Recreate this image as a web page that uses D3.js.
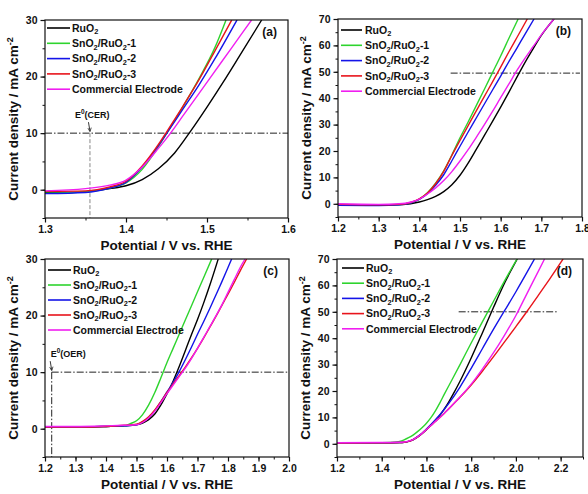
<!DOCTYPE html>
<html><head><meta charset="utf-8">
<script src="https://cdn.jsdelivr.net/npm/d3@7"></script>
<style>
body{margin:0;background:#fff;}
svg text{font-family:"Liberation Sans",Arial,sans-serif;font-weight:bold;fill:#111;}
</style></head>
<body><svg id="c" width="588" height="494"></svg>
<script>
// ---- data ----
const seriesNames = ["RuO2","SnO2/RuO2-1","SnO2/RuO2-2","SnO2/RuO2-3","Commercial Electrode"];
const seriesColors = ["#000000","#2ed42e","#1414e8","#e8141b","#f01ef0"];

// panel (a)  CER, potential (V) vs current density (mA cm-2)
const a_RuO2 = [[1.30,-0.5],[1.33,-0.5],[1.36,-0.2],[1.38,0.2],[1.40,0.7],[1.42,1.8],[1.44,3.7],[1.46,6.5],[1.48,10.4],[1.50,14.6],[1.52,19.0],[1.54,23.6],[1.5675,30]];
const a_Sn1  = [[1.30,-0.6],[1.35,-0.4],[1.38,0.3],[1.40,1.2],[1.42,3.6],[1.44,7.6],[1.45,9.9],[1.47,14.6],[1.49,19.6],[1.51,25.2],[1.5235,30]];
const a_Sn2  = [[1.30,-0.7],[1.35,-0.5],[1.38,0.3],[1.40,1.3],[1.42,4.0],[1.44,7.8],[1.45,9.9],[1.47,14.2],[1.49,18.5],[1.51,23.2],[1.537,30]];
const a_Sn3  = [[1.30,-0.3],[1.35,-0.2],[1.38,0.5],[1.40,1.5],[1.42,4.2],[1.44,8.0],[1.45,10.2],[1.47,14.7],[1.49,19.4],[1.51,24.6],[1.5305,30]];
const a_Com  = [[1.30,-0.2],[1.35,0.2],[1.38,0.8],[1.40,1.7],[1.42,4.0],[1.44,7.3],[1.455,10],[1.47,13],[1.49,17],[1.505,20],[1.53,25],[1.555,30]];

// panel (b)
const b_RuO2 = [[1.20,-0.3],[1.30,-0.5],[1.36,-0.3],[1.40,0.7],[1.42,1.6],[1.44,2.8],[1.46,4.6],[1.48,7.2],[1.50,10.8],[1.52,15.4],[1.54,20.6],[1.56,25.9],[1.58,31.2],[1.60,36.6],[1.62,42.2],[1.64,48],[1.66,53.6],[1.68,58.8],[1.70,63.8],[1.731,70]];
const b_Sn1  = [[1.20,-0.5],[1.30,-0.6],[1.35,-0.3],[1.38,0.5],[1.40,1.8],[1.42,4.2],[1.44,7.8],[1.46,12.5],[1.48,18.5],[1.50,25],[1.52,31],[1.54,37.2],[1.56,43.4],[1.58,49.7],[1.60,56],[1.62,62.6],[1.643,70]];
const b_Sn2  = [[1.20,-0.6],[1.30,-0.7],[1.35,-0.4],[1.38,0.4],[1.40,1.7],[1.42,3.8],[1.44,7],[1.46,11],[1.48,16.3],[1.50,21.8],[1.52,27.2],[1.54,32.5],[1.56,37.8],[1.58,43.1],[1.60,48.4],[1.62,53.8],[1.64,59],[1.66,64.3],[1.682,70]];
const b_Sn3  = [[1.20,-0.2],[1.30,-0.4],[1.35,-0.2],[1.38,0.6],[1.40,1.9],[1.42,4.1],[1.44,7.6],[1.46,12.3],[1.48,18.3],[1.50,24],[1.52,29.6],[1.54,35.2],[1.56,40.7],[1.58,46.2],[1.60,51.8],[1.62,57.5],[1.64,63],[1.6655,70]];
const b_Com  = [[1.20,0.0],[1.30,-0.2],[1.35,0.0],[1.38,0.7],[1.40,1.8],[1.42,3.7],[1.44,6],[1.46,8.8],[1.48,12.2],[1.50,16.2],[1.52,20.5],[1.54,25.2],[1.56,30],[1.58,35],[1.60,40.2],[1.62,45.3],[1.64,50.5],[1.66,55.2],[1.68,59.6],[1.70,64],[1.731,70]];

// panel (c)  OER
const c_RuO2 = [[1.20,0.3],[1.30,0.3],[1.40,0.4],[1.46,0.5],[1.50,0.7],[1.52,1.0],[1.54,1.6],[1.56,2.6],[1.58,4.2],[1.60,6.2],[1.62,8.4],[1.64,11.0],[1.66,13.8],[1.68,16.6],[1.70,19.3],[1.72,22.2],[1.74,25.3],[1.768,30]];
const c_Sn1  = [[1.20,0.3],[1.30,0.3],[1.40,0.4],[1.46,0.5],[1.48,0.9],[1.50,1.4],[1.52,2.5],[1.54,4.2],[1.56,6.4],[1.58,9.0],[1.60,11.7],[1.62,14.2],[1.64,16.7],[1.66,19.2],[1.68,21.7],[1.70,24.2],[1.72,26.7],[1.7465,30]];
const c_Sn2  = [[1.20,0.3],[1.30,0.3],[1.40,0.4],[1.46,0.5],[1.50,0.7],[1.52,1.2],[1.54,2.0],[1.56,3.2],[1.58,4.8],[1.60,6.5],[1.62,8.2],[1.64,10.1],[1.66,12.2],[1.68,14.4],[1.70,16.7],[1.72,18.9],[1.74,21.2],[1.76,23.6],[1.78,26.0],[1.80,28.5],[1.812,30]];
const c_Sn3  = [[1.20,0.3],[1.30,0.3],[1.40,0.4],[1.46,0.6],[1.50,0.8],[1.52,1.3],[1.54,2.1],[1.56,3.3],[1.58,4.8],[1.60,6.4],[1.62,7.9],[1.64,9.4],[1.66,10.9],[1.68,12.5],[1.70,14.2],[1.72,16.0],[1.74,17.9],[1.76,19.8],[1.78,21.8],[1.80,23.8],[1.82,25.8],[1.84,27.9],[1.861,30]];
const c_Com  = [[1.20,0.4],[1.30,0.4],[1.40,0.5],[1.46,0.6],[1.50,0.7],[1.52,1.1],[1.54,1.9],[1.56,3.1],[1.58,4.6],[1.60,6.2],[1.62,7.7],[1.64,9.2],[1.66,10.7],[1.68,12.4],[1.70,14.2],[1.72,16.1],[1.74,18.0],[1.76,19.9],[1.78,21.9],[1.80,24.1],[1.82,26.3],[1.84,28.5],[1.856,30]];

// panel (d)
const d_RuO2 = [[1.20,0.3],[1.40,0.4],[1.48,0.5],[1.50,0.6],[1.52,0.9],[1.54,1.5],[1.56,2.5],[1.58,3.8],[1.60,5.3],[1.62,7.0],[1.64,8.8],[1.66,10.8],[1.68,13.2],[1.70,15.9],[1.72,18.9],[1.75,23.7],[1.80,32.5],[1.85,42.0],[1.90,51.7],[1.95,61],[2.006,70]];
const d_Sn1  = [[1.20,0.3],[1.40,0.4],[1.46,0.6],[1.48,0.9],[1.50,1.5],[1.52,2.3],[1.54,3.3],[1.56,4.6],[1.58,6.1],[1.60,7.8],[1.62,9.9],[1.64,12.5],[1.66,15.5],[1.68,18.8],[1.70,22.0],[1.75,30.0],[1.80,38.2],[1.85,46.2],[1.90,54.0],[1.95,61.8],[2.005,70]];
const d_Sn2  = [[1.20,0.3],[1.40,0.4],[1.48,0.5],[1.50,0.6],[1.52,0.9],[1.54,1.6],[1.56,2.7],[1.58,4.0],[1.60,5.6],[1.62,7.3],[1.64,9.1],[1.66,11.0],[1.68,13.1],[1.70,15.3],[1.75,21.5],[1.80,28.6],[1.85,36.0],[1.90,43.4],[1.95,50.5],[2.00,57.6],[2.05,65],[2.083,70]];
const d_Sn3  = [[1.20,0.3],[1.40,0.4],[1.48,0.5],[1.50,0.6],[1.52,0.9],[1.54,1.6],[1.56,2.6],[1.58,3.9],[1.60,5.4],[1.62,6.9],[1.64,8.5],[1.66,10.0],[1.68,11.6],[1.70,13.3],[1.75,17.6],[1.80,22.3],[1.85,27.5],[1.90,33],[1.95,38.7],[2.00,44.4],[2.05,50.2],[2.10,56.2],[2.15,62.3],[2.211,70]];
const d_Com  = [[1.20,0.4],[1.40,0.5],[1.48,0.6],[1.50,0.7],[1.52,1.0],[1.54,1.6],[1.56,2.6],[1.58,3.9],[1.60,5.4],[1.62,6.9],[1.64,8.5],[1.66,10.0],[1.68,11.6],[1.70,13.3],[1.75,17.7],[1.80,22.6],[1.85,28.3],[1.90,34.5],[1.95,41.3],[2.00,48.6],[2.05,57],[2.10,65.3],[2.128,70]];

// axes ticks
const xTicksA = [1.3,1.4,1.5,1.6];
const xTicksB = [1.2,1.3,1.4,1.5,1.6,1.7,1.8];
const xTicksC = [1.2,1.3,1.4,1.5,1.6,1.7,1.8,1.9,2.0];
const xTicksD = [1.2,1.4,1.6,1.8,2.0,2.2];
const yTicks30 = [0,10,20,30];
const yTicks70 = [0,10,20,30,40,50,60,70];

// reference lines
const refA = {h:10, v:1.3555, label:"CER"};
const refB = {h:49.5, from:1.477, to:1.795};
const refC = {h:10, v:1.222, label:"OER"};
const refD = {h:50, from:1.744, to:2.19};

// ---- drawing ----
const FONT = "Liberation Sans, Arial, sans-serif";
const svg = d3.select("#c");
const panels = [
 {id:"(a)", l:45, r:288, t:20, b:218, xd:[1.3,1.6], yd:[-5,30], xt:xTicksA, xm:0.05, yt:yTicks30, ym:5, data:[a_RuO2,a_Sn1,a_Sn2,a_Sn3,a_Com], leg:{x1:47,x2:70,tx:72,y0:28,dy:15.3}},
 {id:"(b)", l:338, r:582, t:19, b:217, xd:[1.2,1.8], yd:[-5,70], xt:xTicksB, xm:0.05, yt:yTicks70, ym:5, data:[b_RuO2,b_Sn1,b_Sn2,b_Sn3,b_Com], leg:{x1:341,x2:362,tx:365,y0:30,dy:15.3}},
 {id:"(c)", l:45, r:289, t:259, b:457, xd:[1.2,2.0], yd:[-5,30], xt:xTicksC, xm:0.05, yt:yTicks30, ym:5, data:[c_RuO2,c_Sn1,c_Sn2,c_Sn3,c_Com], leg:{x1:48,x2:71,tx:73,y0:270,dy:15}},
 {id:"(d)", l:337, r:583, t:259, b:457, xd:[1.2,2.3], yd:[-5,70], xt:xTicksD, xm:0.1, yt:yTicks70, ym:5, data:[d_RuO2,d_Sn1,d_Sn2,d_Sn3,d_Com], leg:{x1:342,x2:364,tx:366,y0:268,dy:15.2}}
];

function tsp(sel, txt, size, dy){
  const t = sel.append("tspan").attr("font-size",size).attr("font-family",FONT).attr("font-weight","bold").text(txt);
  if(dy) t.attr("dy",dy);
  return t;
}
function labelText(sel, name, size){
  const parts = name.split(/(O2)/);
  let shifted = false;
  parts.forEach(p=>{
    if(p==="O2"){
      tsp(sel,"O",size, shifted?-2.5:null); shifted=false;
      tsp(sel,"2",size*0.7,2.5); shifted=true;
    } else if(p){ tsp(sel,p,size, shifted?-2.5:null); shifted=false; }
  });
}

const dash = "7,2,1.5,2";
panels.forEach((p,pi)=>{
  const x = d3.scaleLinear().domain(p.xd).range([p.l,p.r]);
  const y = d3.scaleLinear().domain(p.yd).range([p.b,p.t]);
  const g = svg.append("g");
  const clipId = "clip"+pi;
  g.append("clipPath").attr("id",clipId).append("rect").attr("x",p.l).attr("y",p.t).attr("width",p.r-p.l).attr("height",p.b-p.t);

  // minor ticks
  const xMinor = d3.range(p.xd[0], p.xd[1]+1e-9, p.xm).map(v=>+v.toFixed(3));
  const yMinor = d3.range(p.yd[0], p.yd[1]+1e-9, p.ym);
  g.append("g").attr("transform",`translate(0,${p.b})`).call(d3.axisBottom(x).tickValues(xMinor).tickSize(2.5).tickFormat(""))
    .call(s=>{s.select(".domain").remove(); s.selectAll("text").remove();}).selectAll("line").attr("stroke","#111").attr("stroke-width",1);
  g.append("g").attr("transform",`translate(${p.l},0)`).call(d3.axisLeft(y).tickValues(yMinor).tickSize(2.5).tickFormat(""))
    .call(s=>{s.select(".domain").remove(); s.selectAll("text").remove();}).selectAll("line").attr("stroke","#111").attr("stroke-width",1);
  // major ticks
  const gx = g.append("g").attr("transform",`translate(0,${p.b})`).call(d3.axisBottom(x).tickValues(p.xt).tickSize(4.5).tickPadding(3).tickFormat(d3.format(".1f")));
  gx.select(".domain").remove();
  gx.selectAll("line").attr("stroke","#111").attr("stroke-width",1.2);
  gx.selectAll("text").attr("font-size",10.5).attr("font-family",FONT).attr("font-weight","bold").attr("fill","#111");
  const gy = g.append("g").attr("transform",`translate(${p.l},0)`).call(d3.axisLeft(y).tickValues(p.yt).tickSize(4.5).tickPadding(3).tickFormat(d3.format("d")));
  gy.select(".domain").remove();
  gy.selectAll("line").attr("stroke","#111").attr("stroke-width",1.2);
  gy.selectAll("text").attr("font-size",10.5).attr("font-family",FONT).attr("font-weight","bold").attr("fill","#111");

  // reference lines
  const ref = [refA,refB,refC,refD][pi];
  const rl = g.append("g").attr("clip-path",`url(#${clipId})`);
  if(ref.v!==undefined){
    const hx0 = pi===0 ? p.l : x(ref.v);
    rl.append("line").attr("x1",hx0).attr("x2",p.r).attr("y1",y(ref.h)).attr("y2",y(ref.h))
      .attr("stroke","#222").attr("stroke-width",1).attr("stroke-dasharray",dash);
    rl.append("line").attr("x1",x(ref.v)).attr("x2",x(ref.v)).attr("y1",y(ref.h)).attr("y2",p.b)
      .attr("stroke",pi===0?"#888":"#222").attr("stroke-width",1).attr("stroke-dasharray",pi===0?"4,2":dash);
  } else {
    rl.append("line").attr("x1",x(ref.from)).attr("x2",x(ref.to)).attr("y1",y(ref.h)).attr("y2",y(ref.h))
      .attr("stroke","#222").attr("stroke-width",1).attr("stroke-dasharray",dash);
  }

  // curves
  const line = d3.line().x(d=>x(d[0])).y(d=>y(d[1])).curve(d3.curveMonotoneX);
  const cg = g.append("g").attr("clip-path",`url(#${clipId})`);
  p.data.forEach((s,si)=>{
    cg.append("path").datum(s).attr("d",line).attr("fill","none")
      .attr("stroke",seriesColors[si]).attr("stroke-width",1.4);
  });

  // frame
  g.append("rect").attr("x",p.l).attr("y",p.t).attr("width",p.r-p.l).attr("height",p.b-p.t)
    .attr("fill","none").attr("stroke","#111").attr("stroke-width",1.2);

  // E0 annotation
  if(ref.label){
    const tx = pi===0 ? x(ref.v)-15 : x(ref.v)-1;
    const ty = y(ref.h)-15;
    const t = g.append("text").attr("x",tx).attr("y",ty).attr("font-size",9);
    tsp(t,"E",9);
    tsp(t,"0",6.5,-4);
    tsp(t,"("+ref.label+")",9,4);
    const ax = x(ref.v);
    g.append("path").attr("d",`M${ax-1.5},${y(ref.h)-11} L${ax},${y(ref.h)-2}`).attr("stroke","#222").attr("stroke-width",0.9).attr("fill","none");
    g.append("path").attr("d",`M${ax-2},${y(ref.h)-5} L${ax},${y(ref.h)-1.5} L${ax+1.3},${y(ref.h)-5.5}`).attr("stroke","#222").attr("stroke-width",0.8).attr("fill","none");
  }

  // legend
  seriesNames.forEach((n,si)=>{
    const yy = p.leg.y0 + si*p.leg.dy;
    g.append("line").attr("x1",p.leg.x1).attr("x2",p.leg.x2).attr("y1",yy).attr("y2",yy)
      .attr("stroke",seriesColors[si]).attr("stroke-width",1.6);
    const t = g.append("text").attr("x",p.leg.tx).attr("y",yy+3.8).attr("font-size",10.5);
    labelText(t,n,10.5);
  });

  // panel id
  g.append("text").attr("x",p.r-11).attr("y",p.t+16).attr("text-anchor","end").attr("font-size",12).text(p.id);

  // axis titles
  svg.append("text").attr("x",(p.l+p.r)/2).attr("y",p.b+32).attr("text-anchor","middle").attr("font-size",13.5).text("Potential / V vs. RHE");
  const ytx = p.l-27, yty = (p.t+p.b)/2;
  const yt = svg.append("text").attr("transform",`translate(${ytx},${yty}) rotate(-90)`).attr("text-anchor","middle").attr("font-size",13.5);
  tsp(yt,"Current density / mA cm",13.5);
  tsp(yt,"-2",9,-5);
});
</script></body></html>
